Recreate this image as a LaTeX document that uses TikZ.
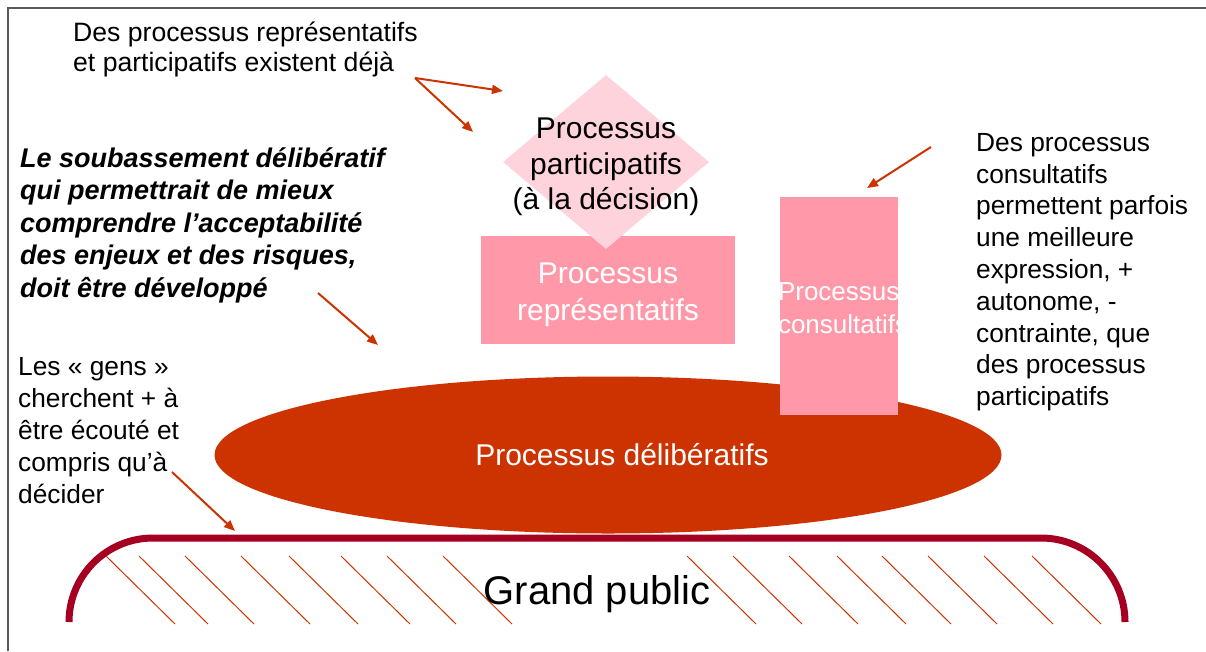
\documentclass[tikz,border=0pt]{standalone}
\usepackage{fontspec}
\setmainfont{Liberation Sans}
\usetikzlibrary{shapes.geometric,positioning,arrows.meta}

\definecolor{brique}{HTML}{CC3300}
\definecolor{bordeaux}{HTML}{A50021}
\definecolor{rose}{HTML}{FF99AA}
\definecolor{rosepale}{HTML}{FFD3DC}
\definecolor{cadre}{HTML}{5A5A5A}

\tikzset{
  note/.style={align=left, inner sep=0pt, anchor=north west, font=\fontsize{26.3}{32}\selectfont},
  pointer/.style={draw=brique, line width=2pt, -{Triangle[length=11pt,width=9pt]}},
  bloc/.style={rectangle, fill=rose, inner sep=0pt},
  inside/.style={text=white, align=center, inner sep=0pt, font=\fontsize{30}{37}\selectfont},
}

\begin{document}
\begin{tikzpicture}[x=1pt,y=-1pt]
    \useasboundingbox (0,0) rectangle (1206,651);
    % Frame of the slide
    \draw[cadre, line width=1.5pt] (8,651) -- (8,8) -- (1206,8);

    % The processes
    \node[ellipse, fill=brique, inner sep=0pt, minimum width=787pt, minimum height=157pt] (delib) at (608,455) {};
    \node[inside] (delibtxt) at ([xshift=14pt]delib.center) {Processus délibératifs};
    \node[bloc, minimum width=254pt, minimum height=108pt] (repr) at (608,290) {};
    \node[inside] (reprtxt) at ([yshift=-5pt]repr.center) {Processus\\représentatifs};
    \node[diamond, fill=rosepale, inner sep=0pt, minimum width=206pt, minimum height=174pt] (partic) at (606,162) {};
    \node[align=center, inner sep=0pt, font=\fontsize{30}{35.5}\selectfont] (partictxt) at ([yshift=-5pt]partic.center) {Processus\\participatifs\\(à la décision)};
    \node[bloc, minimum width=118pt, minimum height=218pt] (consult) at (839,306) {};
    \begin{scope}
      \clip (consult.south west) rectangle (consult.north east);
      \node[inside, align=left, anchor=west, font=\fontsize{26}{33}\selectfont] (consulttxt) at ([xshift=-2pt,yshift=-2pt]consult.west) {Processus\\consultatifs};
    \end{scope}

    % Grand public
    \draw[bordeaux, line width=7pt, rounded corners=84pt] (69,622) |- (597,538) -| (1125,622);
    \foreach \x in {106,139,185,241,289,341,387,443,687,733,789,837,882,928,984,1032}
      \draw[brique, line width=1pt] (\x,556) -- ++(69,68);
    \node[font=\fontsize{40}{46}\selectfont] (public) at (597,594) {Grand public};

    % Comments
    \node[note, font=\fontsize{26.6}{30}\selectfont] (deja) at (73,22) {Des processus représentatifs\\et participatifs existent déjà};
    \node[note, font=\fontsize{27}{32.5}\selectfont\bfseries\itshape] (socle) at (20,147) {Le soubassement délibératif\\qui permettrait de mieux\\comprendre l’acceptabilité\\des enjeux et des risques,\\doit être développé};
    \node[note] (gens) at (18,357) {Les « gens »\\cherchent + à\\être écouté et\\compris qu’à\\décider};
    \node[note, font=\fontsize{26.3}{31.8}\selectfont] (mieux) at (976,133) {Des processus\\consultatifs\\permettent parfois\\une meilleure\\expression, +\\autonome, -\\contrainte, que\\des processus\\participatifs};

    % Arrows
    \coordinate (d0) at (415,78);
    \coordinate (d1) at (503,91);
    \coordinate (d2) at (473,132);
    \coordinate (m0) at (931,147);
    \coordinate (m1) at (867,188);
    \coordinate (s0) at (318,293);
    \coordinate (s1) at (378,345);
    \coordinate (g0) at (172,472);
    \coordinate (g1) at (235,531);
    \draw[pointer] (d0) -- (d1);
    \draw[pointer] (d0) -- (d2);
    \draw[pointer] (m0) -- (m1);
    \draw[pointer] (s0) -- (s1);
    \draw[pointer] (g0) -- (g1);
\end{tikzpicture}
\end{document}
